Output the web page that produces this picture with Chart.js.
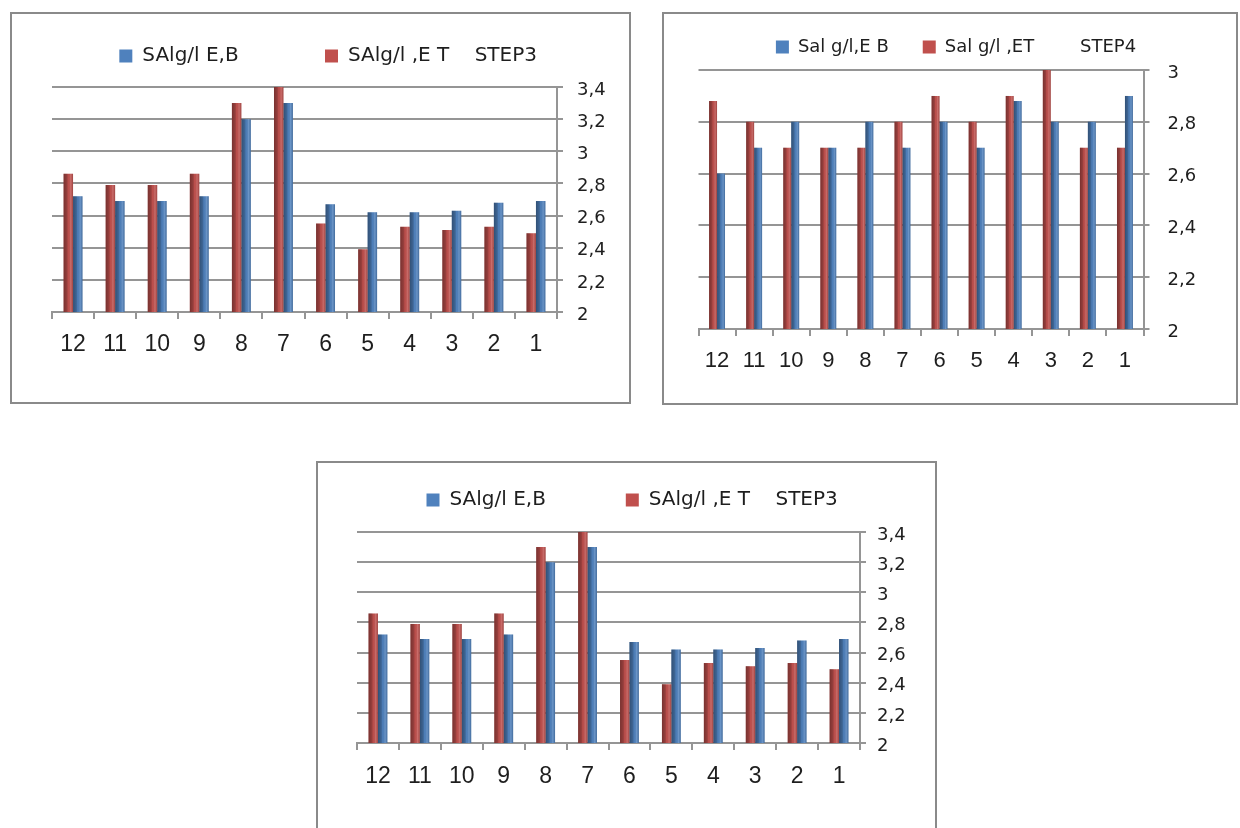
<!DOCTYPE html>
<html>
<head>
<meta charset="utf-8">
<script src="https://cdn.jsdelivr.net/npm/chart.js@4/dist/chart.umd.min.js"></script>
<style>
  html, body { margin: 0; padding: 0; background: #fff; width: 1240px; height: 828px; overflow: hidden; }
  .frame { position: absolute; border: 2px solid #8a8a8a; background: #fff; }
  .frame canvas { display: block; }
</style>
</head>
<body>
<div class="frame" style="left:10px; top:12px; width:617px; height:388px;"><canvas id="step3Top" width="617" height="388"></canvas></div>
<div class="frame" style="left:662px; top:12px; width:572px; height:389px;"><canvas id="step4" width="572" height="389"></canvas></div>
<div class="frame" style="left:316px; top:461px; width:617px; height:368px;"><canvas id="step3Bottom" width="617" height="368"></canvas></div>
<script>
// Months, shown from 12 down to 1
const categories = ['12', '11', '10', '9', '8', '7', '6', '5', '4', '3', '2', '1'];

// STEP3 salinity (g/l)
const step3EB = [2.72, 2.69, 2.69, 2.72, 3.20, 3.30, 2.67, 2.62, 2.62, 2.63, 2.68, 2.69];
const step3ET = [2.86, 2.79, 2.79, 2.86, 3.30, 3.40, 2.55, 2.39, 2.53, 2.51, 2.53, 2.49];

// STEP4 salinity (g/l)
const step4EB = [2.60, 2.70, 2.80, 2.70, 2.80, 2.70, 2.80, 2.70, 2.88, 2.80, 2.80, 2.90];
const step4ET = [2.88, 2.80, 2.70, 2.70, 2.70, 2.80, 2.90, 2.80, 2.90, 3.00, 2.70, 2.70];

// Series names and step captions
const step3Names = { eb: 'SAlg/l E,B', et: 'SAlg/l ,E T', step: 'STEP3' };
const step4Names = { eb: 'Sal g/l,E B', et: 'Sal g/l ,ET', step: 'STEP4' };

// Value axis ranges
const step3Axis = { min: 2, max: 3.4, step: 0.2 };
const step4Axis = { min: 2, max: 3.0, step: 0.2 };

const RED = '#C0504D';
const BLUE = '#4F81BD';
const GRID = '#959595';
const INK = '#1e1e1e';

// decimal comma, no trailing zero
const fmtComma = v => {
  const s = (Math.round(v * 10) / 10).toFixed(1);
  return (s.endsWith('.0') ? s.slice(0, -2) : s).replace('.', ',');
};

// shade each column like a lit cylinder (kept inside the plot area)
const cylinderShade = {
  id: 'cylinderShade',
  afterDatasetsDraw(chart) {
    const ctx = chart.ctx;
    const area = chart.chartArea;
    ctx.save();
    ctx.beginPath();
    ctx.rect(area.left, area.top, area.right - area.left, area.bottom - area.top);
    ctx.clip();
    chart.data.datasets.forEach((ds, i) => {
      const meta = chart.getDatasetMeta(i);
      meta.data.forEach(bar => {
        const { x, y, base, width } = bar.getProps(['x', 'y', 'base', 'width'], true);
        const left = x - width / 2;
        const bottom = Math.min(base, area.bottom);
        const g = ctx.createLinearGradient(left, 0, left + width, 0);
        g.addColorStop(0, 'rgba(0,0,0,0.38)');
        g.addColorStop(0.35, 'rgba(0,0,0,0.22)');
        g.addColorStop(0.5, 'rgba(0,0,0,0.02)');
        g.addColorStop(0.75, 'rgba(255,255,255,0.16)');
        g.addColorStop(1, 'rgba(0,0,0,0.18)');
        ctx.fillStyle = g;
        ctx.fillRect(left, y, width, bottom - y);
      });
    });
    ctx.restore();
  }
};

function buildChart(id, names, eb, et, axis, look) {
  new Chart(document.getElementById(id), {
    type: 'bar',
    data: {
      labels: categories,
      datasets: [
        { label: names.et, data: et, backgroundColor: RED, borderWidth: 0 },
        { label: names.eb, data: eb, backgroundColor: BLUE, borderWidth: 0 }
      ]
    },
    options: {
      responsive: false,
      animation: false,
      events: [],
      layout: { padding: look.padding },
      datasets: { bar: { categoryPercentage: look.catPct, barPercentage: 1 } },
      plugins: {
        tooltip: { enabled: false },
        legend: {
          position: 'top',
          reverse: true,
          labels: {
            color: INK,
            boxWidth: 13,
            boxHeight: 13,
            padding: look.legendGap,
            font: { family: 'DejaVu Sans', size: look.legendSize },
            generateLabels(chart) {
              const items = Chart.defaults.plugins.legend.labels.generateLabels(chart);
              items.forEach(it => {
                if (it.datasetIndex === 0) it.text = it.text + look.stepSpacing + names.step + look.tailSpacing;
                else it.text = it.text + look.ebSpacing;
              });
              return items;
            }
          }
        },
        subtitle: {
          display: true,
          text: '',
          weight: 500,
          font: { size: 1, lineHeight: 1 },
          padding: { top: look.spacer - 1, bottom: 0 }
        }
      },
      scales: {
        x: {
          offset: true,
          grid: { display: true, drawOnChartArea: false, drawTicks: true, tickLength: 7, color: GRID, lineWidth: 2 },
          border: { display: true, color: GRID, width: 2 },
          ticks: {
            autoSkip: false, maxRotation: 0, padding: look.xPad, color: INK,
            font: { family: 'Liberation Sans', size: look.xSize }
          },
          afterFit(scale) { scale.height = look.xHeight; }
        },
        y: {
          position: 'right',
          min: axis.min,
          max: axis.max,
          grid: { color: GRID, lineWidth: 2, drawTicks: true, tickLength: 6 },
          border: { display: true, color: GRID, width: 2 },
          ticks: {
            stepSize: axis.step, padding: look.yPad, color: INK, labelOffset: 3,
            font: { family: 'DejaVu Sans', size: 18 },
            callback: v => fmtComma(v)
          },
          afterFit(scale) { scale.width = look.yWidth; }
        }
      }
    },
    plugins: [cylinderShade]
  });
}

buildChart('step3Top', step3Names, step3EB, step3ET, step3Axis, {
  padding: { left: 40, right: 12, top: 22, bottom: 30 },
  legendGap: 10, legendSize: 20, spacer: 11,
  ebSpacing: ' '.repeat(12), stepSpacing: '    ', tailSpacing: '  ',
  xHeight: 60, yWidth: 60, yPad: 14, xPad: 12, xSize: 23, catPct: 0.45
});

buildChart('step4', step4Names, step4EB, step4ET, step4Axis, {
  padding: { left: 34.5, right: 22.5, top: -10, bottom: 24 },
  legendGap: 34, legendSize: 18, spacer: 4,
  ebSpacing: '', stepSpacing: '        ', tailSpacing: '',
  xHeight: 50, yWidth: 70, yPad: 18, xPad: 12, xSize: 22, catPct: 0.43
});

buildChart('step3Bottom', step3Names, step3EB, step3ET, step3Axis, {
  padding: { left: 39, right: 15, top: 17, bottom: 28 },
  legendGap: 10, legendSize: 20, spacer: 12,
  ebSpacing: ' '.repeat(11), stepSpacing: '    ', tailSpacing: '  ',
  xHeight: 60, yWidth: 60, yPad: 11, xPad: 13, xSize: 23, catPct: 0.45
});
</script>
</body>
</html>
